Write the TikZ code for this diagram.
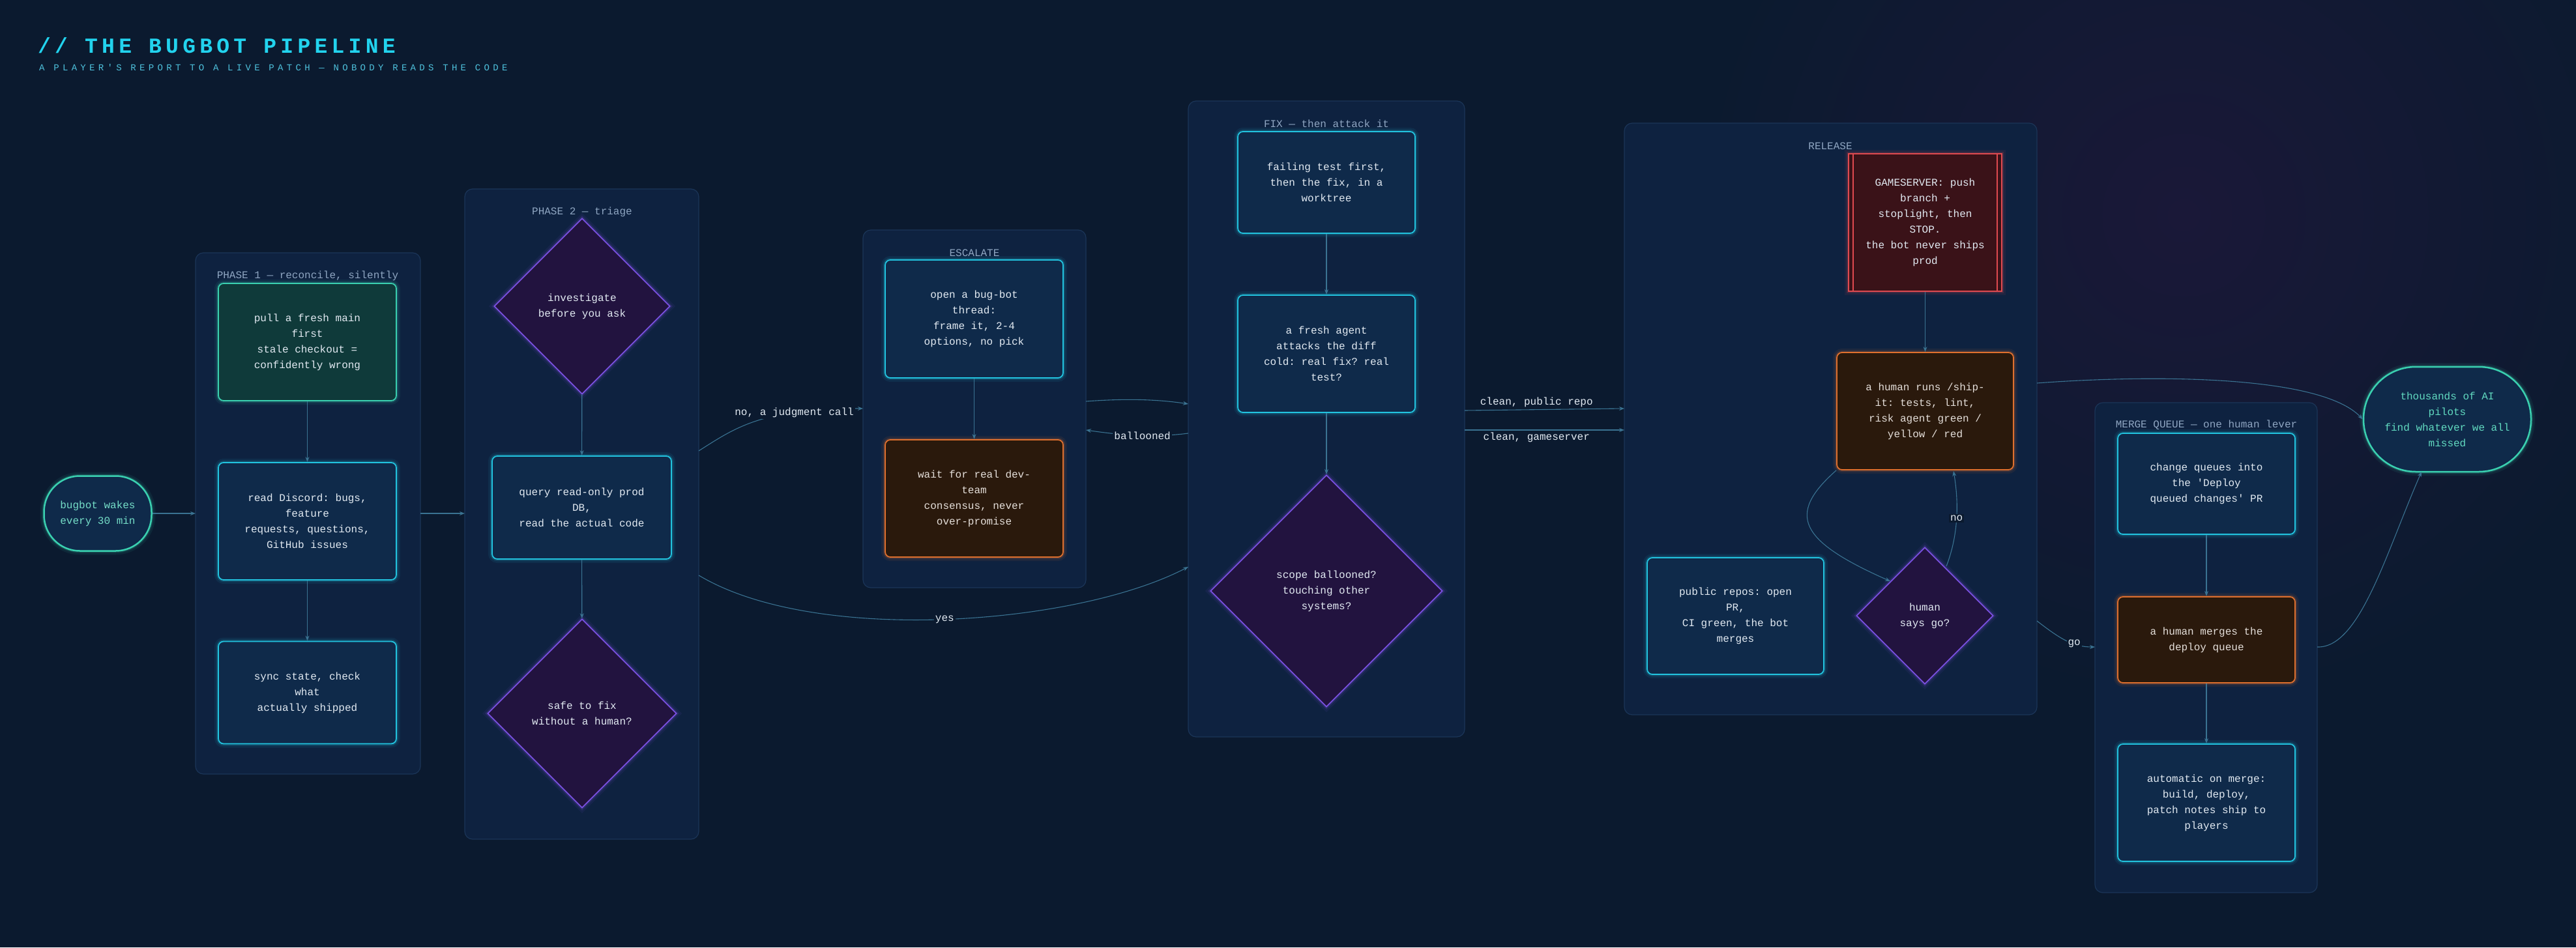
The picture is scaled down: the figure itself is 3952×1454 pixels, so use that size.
\documentclass[tikz,border=0pt]{standalone}
\usepackage{fontspec}
\setmonofont{Liberation Mono}
\usetikzlibrary{shapes.geometric,arrows.meta}
\definecolor{bg}{HTML}{0B1A2F}
\definecolor{bgp}{HTML}{1A1838}
\definecolor{clfill}{HTML}{0E2240}
\definecolor{cldraw}{HTML}{1B3558}
\definecolor{cltext}{HTML}{8FA6C2}
\definecolor{bfill}{HTML}{0F2A4A}
\definecolor{bdraw}{HTML}{22C4E0}
\definecolor{gfill}{HTML}{0F3A3A}
\definecolor{gdraw}{HTML}{3AD0B0}
\definecolor{ofill}{HTML}{2A190C}
\definecolor{odraw}{HTML}{E0702E}
\definecolor{pfill}{HTML}{22133F}
\definecolor{pdraw}{HTML}{7A50E0}
\definecolor{rfill}{HTML}{3A1218}
\definecolor{rdraw}{HTML}{E04A50}
\definecolor{edge}{HTML}{3A7392}
\definecolor{ntext}{HTML}{E2EAF2}
\definecolor{title}{HTML}{22D3EE}
\begin{document}
\begin{tikzpicture}[x=1pt,y=-1pt,
  every node/.style={font=\ttfamily\fontsize{16}{24}\selectfont, text=ntext, align=center, inner sep=0pt},
  cluster/.style={draw=cldraw, fill=clfill, rounded corners=12pt, line width=1.2pt},
  cllabel/.style={text=cltext, font=\ttfamily\fontsize{16}{20}\selectfont},
  glow/.style={preaction={draw=#1, line width=12pt, opacity=0.08}, preaction={draw=#1, line width=6pt, opacity=0.18}},
  box/.style={rectangle, rounded corners=8pt, line width=1.8pt},
  bbox/.style={box, fill=bfill, draw=bdraw, glow=bdraw},
  gbox/.style={box, fill=gfill, draw=gdraw, glow=gdraw},
  obox/.style={box, fill=ofill, draw=odraw, glow=odraw, text=ntext!90!orange},
  dia/.style={diamond, aspect=1, fill=pfill, draw=pdraw, line width=1.8pt, glow=pdraw},
  arr/.style={draw=edge, line width=1.1pt, -{Stealth[length=8pt,width=6pt]}},
  elab/.style={fill=bg, inner sep=2pt, font=\ttfamily\fontsize{16}{20}\selectfont}
]
\useasboundingbox (0,0) rectangle (3952,1454);
\fill[bg] (0,0) rectangle (3952,1454);
\shade[inner color=bgp, outer color=bg] (3350,330) circle (750);

\node[anchor=west, text=title, font=\ttfamily\bfseries\fontsize{33}{36}\selectfont\addfontfeatures{LetterSpace=19}] (ttl) at (58,70) {// THE BUGBOT PIPELINE};
\node[anchor=west, text=title!60!cltext, font=\ttfamily\fontsize{14}{16}\selectfont\addfontfeatures{LetterSpace=38}] (sub) at (60,103) {A PLAYER'S REPORT TO A LIVE PATCH — NOBODY READS THE CODE};

% clusters
\draw[cluster] (300,388) rectangle (645,1188);
\node[cllabel] (c1) at (472,423) {PHASE 1 — reconcile, silently};
\draw[cluster] (713,290) rectangle (1072,1288);
\node[cllabel] (c2) at (893,325) {PHASE 2 — triage};
\draw[cluster] (1324,353) rectangle (1666,902);
\node[cllabel] (c3) at (1495,388) {ESCALATE};
\draw[cluster] (1823,155) rectangle (2247,1131);
\node[cllabel] (c4) at (2035,190) {FIX — then attack it};
\draw[cluster] (2492,189) rectangle (3125,1097);
\node[cllabel] (c5) at (2808,224) {RELEASE};
\draw[cluster] (3214,618) rectangle (3555,1370);
\node[cllabel] (c6) at (3385,652) {MERGE QUEUE — one human lever};

% nodes
\node[box, rounded corners=55pt, fill=bfill, draw=gdraw, glow=gdraw, line width=2.5pt, minimum width=165pt, minimum height=115pt, text=gdraw!70!white] (start) at (150,788) {bugbot wakes\\every 30 min};
\node[gbox, minimum width=273pt, minimum height=180pt] (n1) at (471.5,525) {pull a fresh main\\first\\stale checkout =\\confidently wrong};
\node[bbox, minimum width=273pt, minimum height=180pt] (n2) at (471.5,800) {read Discord: bugs,\\feature\\requests, questions,\\GitHub issues};
\node[bbox, minimum width=273pt, minimum height=157pt] (n3) at (471.5,1063) {sync state, check\\what\\actually shipped};
\node[dia, minimum width=270pt, minimum height=270pt] (d1) at (893,470) {investigate\\before you ask};
\node[bbox, minimum width=275pt, minimum height=158pt] (n4) at (892.5,779) {query read-only prod\\DB,\\read the actual code};
\node[dia, minimum width=290pt, minimum height=290pt] (d2) at (893,1095) {safe to fix\\without a human?};
\node[bbox, minimum width=273pt, minimum height=181pt] (e1) at (1494.5,489.5) {open a bug-bot\\thread:\\frame it, 2-4\\options, no pick};
\node[obox, minimum width=273pt, minimum height=180pt] (e2) at (1494.5,765) {wait for real dev-\\team\\consensus, never\\over-promise};
\node[bbox, minimum width=272pt, minimum height=156pt] (f1) at (2035,280) {failing test first,\\then the fix, in a\\worktree};
\node[bbox, minimum width=272pt, minimum height=180pt] (f2) at (2035,543) {a fresh agent\\attacks the diff\\cold: real fix? real\\test?};
\node[dia, minimum width=356pt, minimum height=356pt] (d3) at (2035,907) {scope ballooned?\\touching other\\systems?};
\node[rectangle, fill=rfill, draw=rdraw, line width=1.8pt, glow=rdraw, minimum width=235pt, minimum height=211pt] (gs) at (2953.5,341.5) {GAMESERVER: push\\branch +\\stoplight, then\\STOP.\\the bot never ships\\prod};
\draw[rdraw, line width=1.4pt] ([xshift=8pt]gs.north west) -- ([xshift=8pt]gs.south west) ([xshift=-8pt]gs.north east) -- ([xshift=-8pt]gs.south east);
\node[obox, minimum width=271pt, minimum height=180pt] (ship) at (2953.5,631) {a human runs /ship-\\it: tests, lint,\\risk agent green /\\yellow / red};
\node[bbox, minimum width=271pt, minimum height=179pt] (pub) at (2662.5,945.5) {public repos: open\\PR,\\CI green, the bot\\merges};
\node[dia, minimum width=210pt, minimum height=210pt] (d4) at (2953,945) {human\\says go?};
\node[bbox, minimum width=272pt, minimum height=155pt] (m1) at (3385,742.5) {change queues into\\the 'Deploy\\queued changes' PR};
\node[obox, minimum width=272pt, minimum height=132pt] (m2) at (3385,982) {a human merges the\\deploy queue};
\node[bbox, minimum width=272pt, minimum height=180pt] (m3) at (3385,1232) {automatic on merge:\\build, deploy,\\patch notes ship to\\players};
\node[box, rounded corners=80pt, fill=bfill, draw=gdraw, glow=gdraw, line width=2.5pt, minimum width=257pt, minimum height=161pt, text=gdraw!80!white] (end) at (3754.5,643.5) {thousands of AI\\pilots\\find whatever we all\\missed};

% cluster boundary points
\coordinate (p1r) at (645,788); \coordinate (p1l) at (300,788);
\coordinate (p2l) at (713,788);
\coordinate (p2a) at (1072,692); \coordinate (p2b) at (1072,883);
\coordinate (escl) at (1324,627); \coordinate (escr1) at (1666,616); \coordinate (escr2) at (1666,660);
\coordinate (fixl1) at (1823,620); \coordinate (fixl2) at (1823,665); \coordinate (fixl3) at (1823,870);
\coordinate (fixr1) at (2247,630); \coordinate (fixr2) at (2247,660);
\coordinate (rell1) at (2492,627); \coordinate (rell2) at (2492,660);
\coordinate (relr1) at (3125,588); \coordinate (relr2) at (3125,953);
\coordinate (mql) at (3214,993); \coordinate (mqr) at (3555,993);
\coordinate (d4ne) at (2986,869); \coordinate (shipse) at (2997,723);
\coordinate (endb) at (3715,724);

% edges
\draw[arr] (start) -- (p1l);
\draw[arr] (p1r) -- (p2l);
\draw[arr] (n1) -- (n2);
\draw[arr] (n2) -- (n3);
\draw[arr] (d1) -- (n4);
\draw[arr] (n4) -- (d2);
\draw[arr] (e1) -- (e2);
\draw[arr] (f1) -- (f2);
\draw[arr] (f2) -- (d3);
\draw[arr] (gs) -- (ship);
\draw[arr] (m1) -- (m2);
\draw[arr] (m2) -- (m3);
\draw[arr] (p2a) .. controls (1130,655) and (1170,627) .. node[elab, pos=0.72] (lj) {no, a judgment call} (escl);
\draw[arr] (p2b) .. controls (1250,990) and (1650,960) .. node[elab, pos=0.5] (ly) {yes} (fixl3);
\draw[arr] (escr1) .. controls (1720,612) and (1770,612) .. (fixl1);
\draw[arr] (fixl2) .. controls (1770,672) and (1720,668) .. node[elab, pos=0.45] (lb) {ballooned} (escr2);
\draw[arr] (fixr1) -- node[elab, pos=0.45, above=1pt] (lc1) {clean, public repo} (rell1);
\draw[arr] (fixr2) -- node[elab, pos=0.45, below=1pt] (lc2) {clean, gameserver} (rell2);
\draw[arr] (ship.south west) .. controls (2740,790) and (2760,830) .. (d4.north west);
\draw[arr] (d4ne) .. controls (3005,820) and (3005,770) .. node[elab, pos=0.5] (ln) {no} (shipse);
\draw[arr] (relr2) .. controls (3160,980) and (3180,993) .. node[elab, pos=0.65] (lg) {go} (mql);
\draw[arr] (relr1) .. controls (3300,575) and (3560,575) .. (end.west);
\draw[arr] (mqr) .. controls (3620,995) and (3660,850) .. (endb);
\end{tikzpicture}
\end{document}
